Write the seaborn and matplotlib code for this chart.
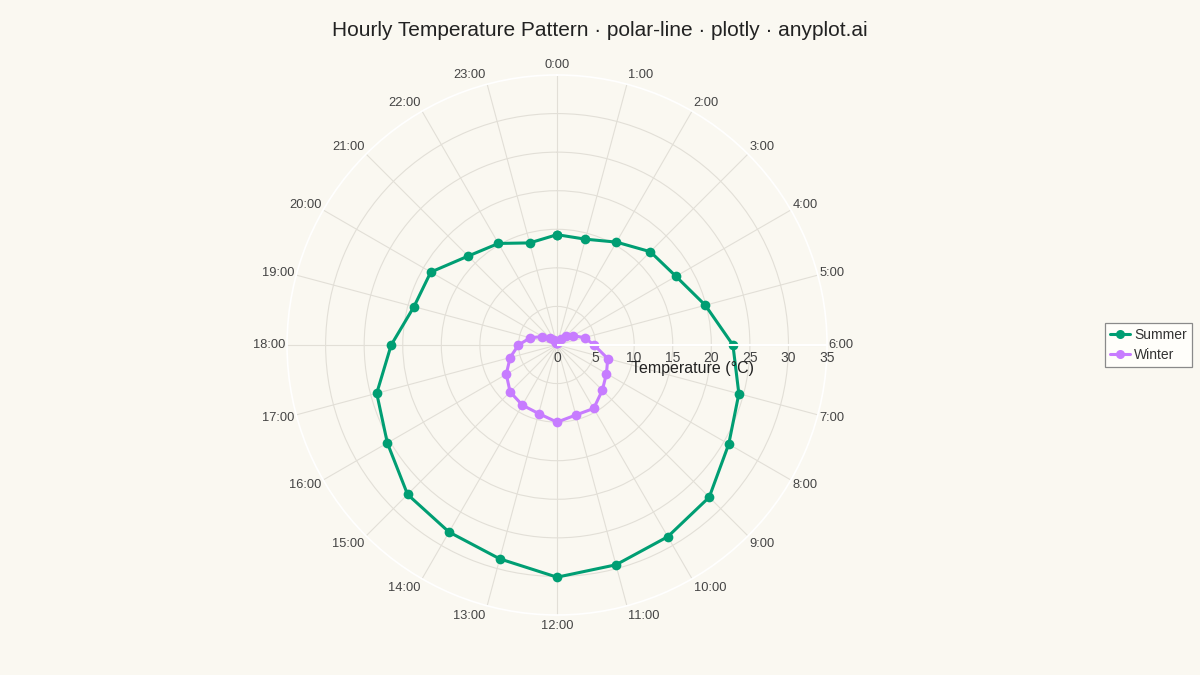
import numpy as np
import pandas as pd
import matplotlib.pyplot as plt
import seaborn as sns
from matplotlib.lines import Line2D
from matplotlib.transforms import offset_copy

# data
hours = list(range(24))
hour_labels = [f"{h}:00" for h in hours]
summer_temp = [14.3, 14.2, 15.4, 17.1, 17.8, 19.9, 22.8, 24.4, 25.7, 27.9, 28.7, 29.5,
               30.1, 28.7, 28.0, 27.4, 25.4, 24.2, 21.5, 19.2, 18.9, 16.3, 15.2, 13.7]
winter_temp = [0.2, 0.4, 0.9, 1.6, 2.4, 3.7, 4.8, 6.8, 7.4, 8.3, 9.5, 9.4,
               10.0, 9.2, 9.0, 8.6, 7.6, 6.3, 5.0, 3.6, 2.2, 1.2, 0.7, 0.3]
seasons = ['Summer', 'Winter']
season_colors = ['#009E73', '#C77CFF']
radial_ticks = [0, 5, 10, 15, 20, 25, 30, 35]

bg = '#FAF8F1'
grid_col = '#E2DFD7'
text_col = '#444444'

# long table, each loop closed back to 0:00
rows = []
for season, temps in zip(seasons, [summer_temp, winter_temp]):
    for h, t in zip(hours + [24], temps + [temps[0]]):
        rows.append({'season': season, 'theta': h / 24 * 2 * np.pi, 'temp': t})
df = pd.DataFrame(rows)

sns.set_style('white')
plt.rcParams['font.family'] = ['Liberation Sans', 'DejaVu Sans']

fig = plt.figure(figsize=(12, 6.75), dpi=100, facecolor=bg)
ax = fig.add_axes([0.2392, 0.0889, 0.45, 0.8], projection='polar')
ax.set_facecolor(bg)
ax.set_theta_zero_location('N')
ax.set_theta_direction(-1)

sns.lineplot(data=df, x='theta', y='temp', hue='season', palette=season_colors,
             hue_order=seasons, sort=False, estimator=None, errorbar=None,
             marker='o', markersize=7, markeredgewidth=0, linewidth=2.2,
             legend=False, ax=ax)

ax.set_ylim(0, 35)
tick_angles = [h / 24 * 2 * np.pi for h in hours]
ax.set_xticks(tick_angles)
ax.set_xticklabels([])
ax.set_yticks(radial_ticks[1:-1])
ax.set_yticklabels([])
ax.set_xlabel('')
ax.set_ylabel('')
ax.grid(True, color=grid_col, linewidth=0.8)
ax.spines['polar'].set_color('white')
ax.spines['polar'].set_linewidth(1.2)

# radial axis line along 6:00, drawn over the traces like plotly does
ax.vlines(np.pi / 2, 0, 35, color='white', linewidth=1.5, zorder=5)

# radial tick labels below the axis line
for r in radial_ticks:
    tr = offset_copy(ax.transData, fig=fig, x=0, y=-6, units='dots')
    ax.text(np.pi / 2, r, str(r), transform=tr, ha='center', va='top',
            fontsize=10, color=text_col, zorder=6)
tr = offset_copy(ax.transData, fig=fig, x=0, y=-24, units='dots')
ax.text(np.pi / 2, 17.5, 'Temperature (°C)', transform=tr, ha='center',
        va='center', fontsize=11.5, color='#222222', zorder=6)

# angular labels just outside the rim, anchored by direction
for ang, lab in zip(tick_angles, hour_labels):
    s, c = np.sin(ang), np.cos(ang)
    if abs(s) < 0.1:
        ha, dx = 'center', 0
    elif s > 0:
        ha, dx = 'left', 1.5
    else:
        ha, dx = 'right', -1.5
    dy = c * 10 if c > 0 else c * 11
    tr = offset_copy(ax.transData, fig=fig, x=dx, y=dy, units='dots')
    ax.text(ang, 35, lab, transform=tr, ha=ha, va='center',
            fontsize=9.3, color=text_col, clip_on=False)

fig.text(0.5, 1 - 30 / 675, 'Hourly Temperature Pattern · polar-line · plotly · anyplot.ai',
         ha='center', va='center', fontsize=15, color='#222222')

handles = [Line2D([0], [0], color=c, linewidth=2.2, marker='o', markersize=6.5,
                  markeredgewidth=0) for c in season_colors]
leg = fig.legend(handles, seasons, loc='center left', bbox_to_anchor=(0.921, 0.489),
                 borderaxespad=0, frameon=True, fancybox=False, fontsize=10,
                 edgecolor='#8A8A8A', facecolor='#FFFEFA', framealpha=1,
                 handlelength=1.45, handletextpad=0.3, borderpad=0.35,
                 labelspacing=0.45)
leg.get_frame().set_linewidth(0.9)
for t in leg.get_texts():
    t.set_color('#333333')

fig.savefig('out.png', dpi=100, facecolor=bg)
